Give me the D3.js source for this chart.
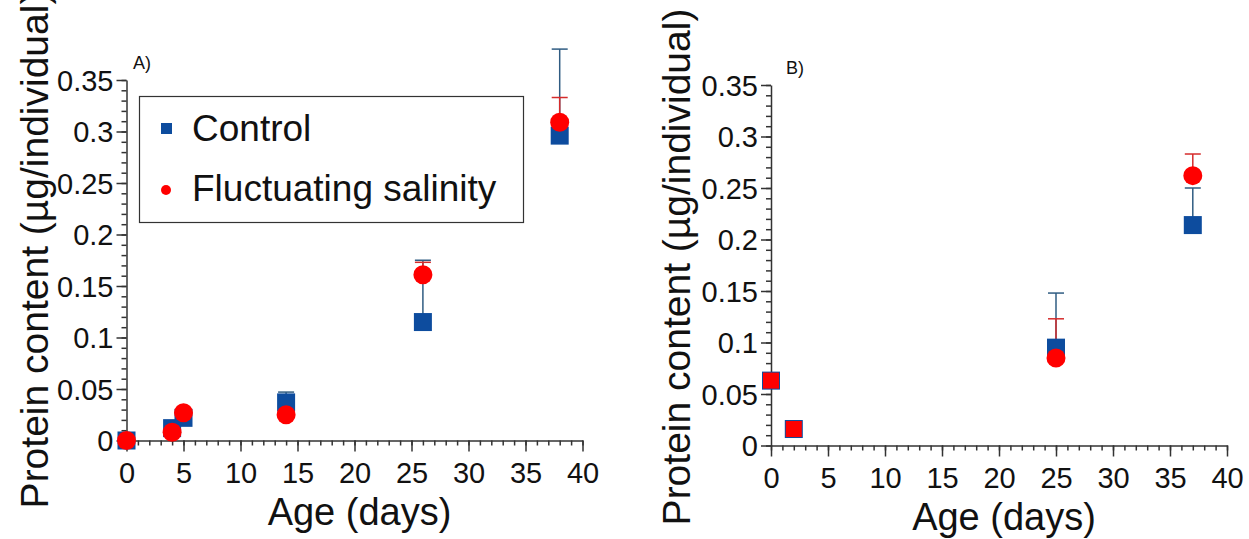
<!DOCTYPE html>
<html>
<head>
<meta charset="utf-8">
<script src="https://cdn.jsdelivr.net/npm/d3@7"></script>
<style>
  body { margin: 0; background: #fff; }
  svg { display: block; font-family: Arial, 'Liberation Sans', sans-serif; }
  .domain { stroke: #333; stroke-width: 1.5px; }
  .tick line { stroke: #333; stroke-width: 1.5px; }
</style>
</head>
<body>
<svg id="chart" width="1249" height="539"></svg>
<script>
// Panel A data
const daysA = [0, 4, 5, 14, 26, 38];
const controlA = [0.000, 0.012, 0.022, 0.037, 0.115, 0.296];
const controlErrA = [0.000, 0.002, 0.003, 0.010, 0.060, 0.084];
const fluctA = [0.000, 0.008, 0.027, 0.025, 0.161, 0.309];
const fluctErrA = [0.000, 0.002, 0.002, 0.003, 0.012, 0.024];
const fluctShapeA = ['circle', 'circle', 'circle', 'circle', 'circle', 'circle'];

// Panel B data
const daysB = [0, 2, 25, 37];
const controlB = [0.063, 0.016, 0.095, 0.214];
const controlErrB = [0.000, 0.000, 0.053, 0.036];
const fluctB = [0.063, 0.016, 0.085, 0.262];
const fluctErrB = [0.000, 0.000, 0.038, 0.021];
const fluctShapeB = ['square', 'square', 'circle', 'circle'];

// Axes
const xTicks = [0, 5, 10, 15, 20, 25, 30, 35, 40];
const xTickLabels = ['0', '5', '10', '15', '20', '25', '30', '35', '40'];
const yTicks = [0, 0.05, 0.1, 0.15, 0.2, 0.25, 0.3, 0.35];
const yTickLabels = ['0', '0.05', '0.1', '0.15', '0.2', '0.25', '0.3', '0.35'];
const seriesNames = ['Control', 'Fluctuating salinity'];

const blue = '#0d4c9e', red = '#ff0000';
const blueBar = '#2f5c82', redBar = '#d52b2b';

const svg = d3.select('#chart');

function drawPanel(opt) {
    const x = d3.scaleLinear().domain([0, 40]).range([opt.left, opt.right]);
    const y = d3.scaleLinear().domain([0, 0.35]).range([opt.bottom, opt.top]);
    const g = svg.append('g');

    // minor ticks
    g.append('g').attr('transform', `translate(0,${opt.bottom})`)
        .call(d3.axisBottom(x).tickValues(d3.range(0, 41, 1)).tickSize(5).tickFormat(''))
        .call(s => s.select('.domain').remove());
    g.append('g').attr('transform', `translate(${opt.left},0)`)
        .call(d3.axisLeft(y).tickValues(d3.range(0, 36).map(i => i / 100)).tickSize(5).tickFormat(''))
        .call(s => s.select('.domain').remove());

    // major ticks
    const xa = g.append('g').attr('transform', `translate(0,${opt.bottom})`)
        .call(d3.axisBottom(x).tickValues(xTicks).tickSize(11).tickSizeOuter(0)
            .tickFormat((d, i) => xTickLabels[i]));
    xa.selectAll('text').attr('font-size', 29).attr('fill', '#111').attr('dy', '0.98em');
    const ya = g.append('g').attr('transform', `translate(${opt.left},0)`)
        .call(d3.axisLeft(y).tickValues(yTicks).tickSize(10).tickSizeOuter(0)
            .tickFormat((d, i) => yTickLabels[i]));
    ya.selectAll('text').attr('font-size', 29).attr('fill', '#111').attr('x', -13).attr('dy', '0.36em');
    g.selectAll('.domain').attr('stroke', '#333');

    // axis titles
    g.append('text').attr('x', (opt.left + opt.right) / 2 + 5).attr('y', opt.bottom + 84)
        .attr('text-anchor', 'middle').attr('font-size', 38).attr('fill', '#111').text('Age (days)');
    g.append('text').attr('transform', `translate(${opt.titleX},${opt.titleY}) rotate(-90)`)
        .attr('text-anchor', 'middle').attr('font-size', 39).attr('fill', '#111')
        .text('Protein content (µg/individual)');
    g.append('text').attr('x', opt.tagX).attr('y', opt.tagY).attr('font-size', 18).attr('fill', '#111').text(opt.tag);

    const rows = opt.days.map((d, i) => ({
        d, c: opt.control[i], ce: opt.controlErr[i], f: opt.fluct[i], fe: opt.fluctErr[i], shape: opt.shape[i]
    }));

    // error bars (upper only)
    function bars(key, errKey, color) {
        const eb = g.append('g').attr('stroke', color).attr('stroke-width', 1.5);
        rows.filter(r => r[errKey] > 0).forEach(r => {
            const px = x(r.d), y0 = y(r[key]), y1 = y(r[key] + r[errKey]);
            eb.append('line').attr('x1', px).attr('x2', px).attr('y1', y0).attr('y2', y1);
            eb.append('line').attr('x1', px - 8).attr('x2', px + 8).attr('y1', y1).attr('y2', y1);
        });
    }
    bars('c', 'ce', blueBar);
    bars('f', 'fe', redBar);

    const s = 18;
    g.append('g').selectAll('rect').data(rows).join('rect')
        .attr('x', r => x(r.d) - s / 2).attr('y', r => y(r.c) - s / 2)
        .attr('width', s).attr('height', s).attr('fill', blue);
    g.append('g').selectAll('circle').data(rows.filter(r => r.shape === 'circle')).join('circle')
        .attr('cx', r => x(r.d)).attr('cy', r => y(r.f)).attr('r', 9.5).attr('fill', red);
    g.append('g').selectAll('rect').data(rows.filter(r => r.shape === 'square')).join('rect')
        .attr('x', r => x(r.d) - s / 2 + 1).attr('y', r => y(r.f) - s / 2 + 1)
        .attr('width', s - 2).attr('height', s - 2).attr('fill', red);
    return { x, y };
}

drawPanel({
    left: 126.5, right: 582.5, top: 80, bottom: 440.5,
    titleX: 48, titleY: 250, tag: 'A)', tagX: 133, tagY: 69,
    days: daysA, control: controlA, controlErr: controlErrA, fluct: fluctA, fluctErr: fluctErrA, shape: fluctShapeA
});
drawPanel({
    left: 771, right: 1227, top: 85, bottom: 445.5,
    titleX: 690, titleY: 267, tag: 'B)', tagX: 786, tagY: 74,
    days: daysB, control: controlB, controlErr: controlErrB, fluct: fluctB, fluctErr: fluctErrB, shape: fluctShapeB
});

// legend (panel A)
const legend = svg.append('g');
legend.append('rect').attr('x', 139.5).attr('y', 96.5).attr('width', 384).attr('height', 126)
    .attr('fill', '#fff').attr('stroke', '#333').attr('stroke-width', 1.2);
legend.append('rect').attr('x', 161).attr('y', 123).attr('width', 11).attr('height', 11).attr('fill', blue);
legend.append('circle').attr('cx', 166).attr('cy', 190).attr('r', 5).attr('fill', red);
legend.selectAll('text.lab').data(seriesNames).join('text').attr('class', 'lab')
    .attr('x', 192).attr('y', (d, i) => 141 + i * 60)
    .attr('font-size', 37).attr('fill', '#111').text(d => d);
</script>
</body>
</html>
